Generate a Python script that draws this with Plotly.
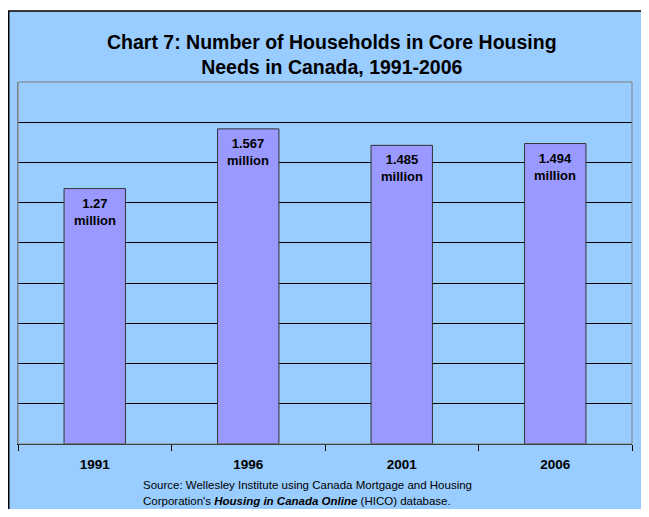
import plotly.graph_objects as go

years = ['1991', '1996', '2001', '2006']
households = [1.27, 1.567, 1.485, 1.494]
bar_labels = ['1.27<br>million', '1.567<br>million', '1.485<br>million', '1.494<br>million']

FONT = 'Liberation Sans, Arial, sans-serif'

fig = go.Figure()

fig.add_trace(go.Bar(
    x=years,
    y=households,
    marker=dict(color='#9999FF', line=dict(color='#333333', width=1)),
    width=0.4,
    hoverinfo='skip'
))

# value labels just inside the top of each bar (category index as x)
for i, (val, lab) in enumerate(zip(households, bar_labels)):
    fig.add_annotation(
        x=i, y=val, text=f'<b>{lab}</b>',
        showarrow=False, xanchor='center', yanchor='top', yshift=-5,
        font=dict(family=FONT, size=13, color='black')
    )

# light blue chart frame behind everything
fig.add_shape(
    type='rect', xref='paper', yref='paper',
    x0=-0.0151, x1=1.1, y0=-0.4, y1=1.1961,
    fillcolor='#99CCFF', line=dict(color='black', width=1.5),
    layer='below'
)
# plot area border
fig.add_shape(
    type='rect', xref='paper', yref='paper',
    x0=0, x1=1, y0=0, y1=1,
    line=dict(color='#808080', width=1), layer='above'
)

fig.add_annotation(
    xref='paper', yref='paper', x=0.511, y=1.0746,
    text='<b>Chart 7: Number of Households in Core Housing<br>Needs in Canada, 1991-2006</b>',
    showarrow=False, xanchor='center', yanchor='middle',
    font=dict(family=FONT, size=19.5, color='black')
)

fig.add_annotation(
    xref='paper', yref='paper', x=0.2, y=-0.1133,
    text="Source: Wellesley Institute using Canada Mortgage and Housing",
    showarrow=False, xanchor='left', yanchor='middle',
    font=dict(family=FONT, size=11.5, color='black')
)
fig.add_annotation(
    xref='paper', yref='paper', x=0.2, y=-0.1575,
    text="Corporation's <b><i>Housing in Canada Online</i></b> (HICO) database.",
    showarrow=False, xanchor='left', yanchor='middle',
    font=dict(family=FONT, size=11.5, color='black')
)

# page body adds an 8px margin; keep figure inside the window to avoid scrollbars
fig.update_layout(
    width=633, height=501,
    margin=dict(l=10, r=9, t=74, b=65),
    paper_bgcolor='white',
    plot_bgcolor='white',
    showlegend=False,
    xaxis=dict(
        type='category',
        tickson='boundaries',
        ticks='outside', ticklen=6, tickcolor='black',
        ticklabelstandoff=8,
        showline=True, linecolor='black', linewidth=1,
        tickfont=dict(family=FONT, size=13.5, color='black', weight='bold'),
        showgrid=False,
    ),
    yaxis=dict(
        range=[0, 1.8], dtick=0.2,
        showticklabels=False,
        showgrid=True, gridcolor='black', gridwidth=1,
        zeroline=False,
        showline=True, linecolor='#808080',
    ),
)

fig.write_html('out.html')
